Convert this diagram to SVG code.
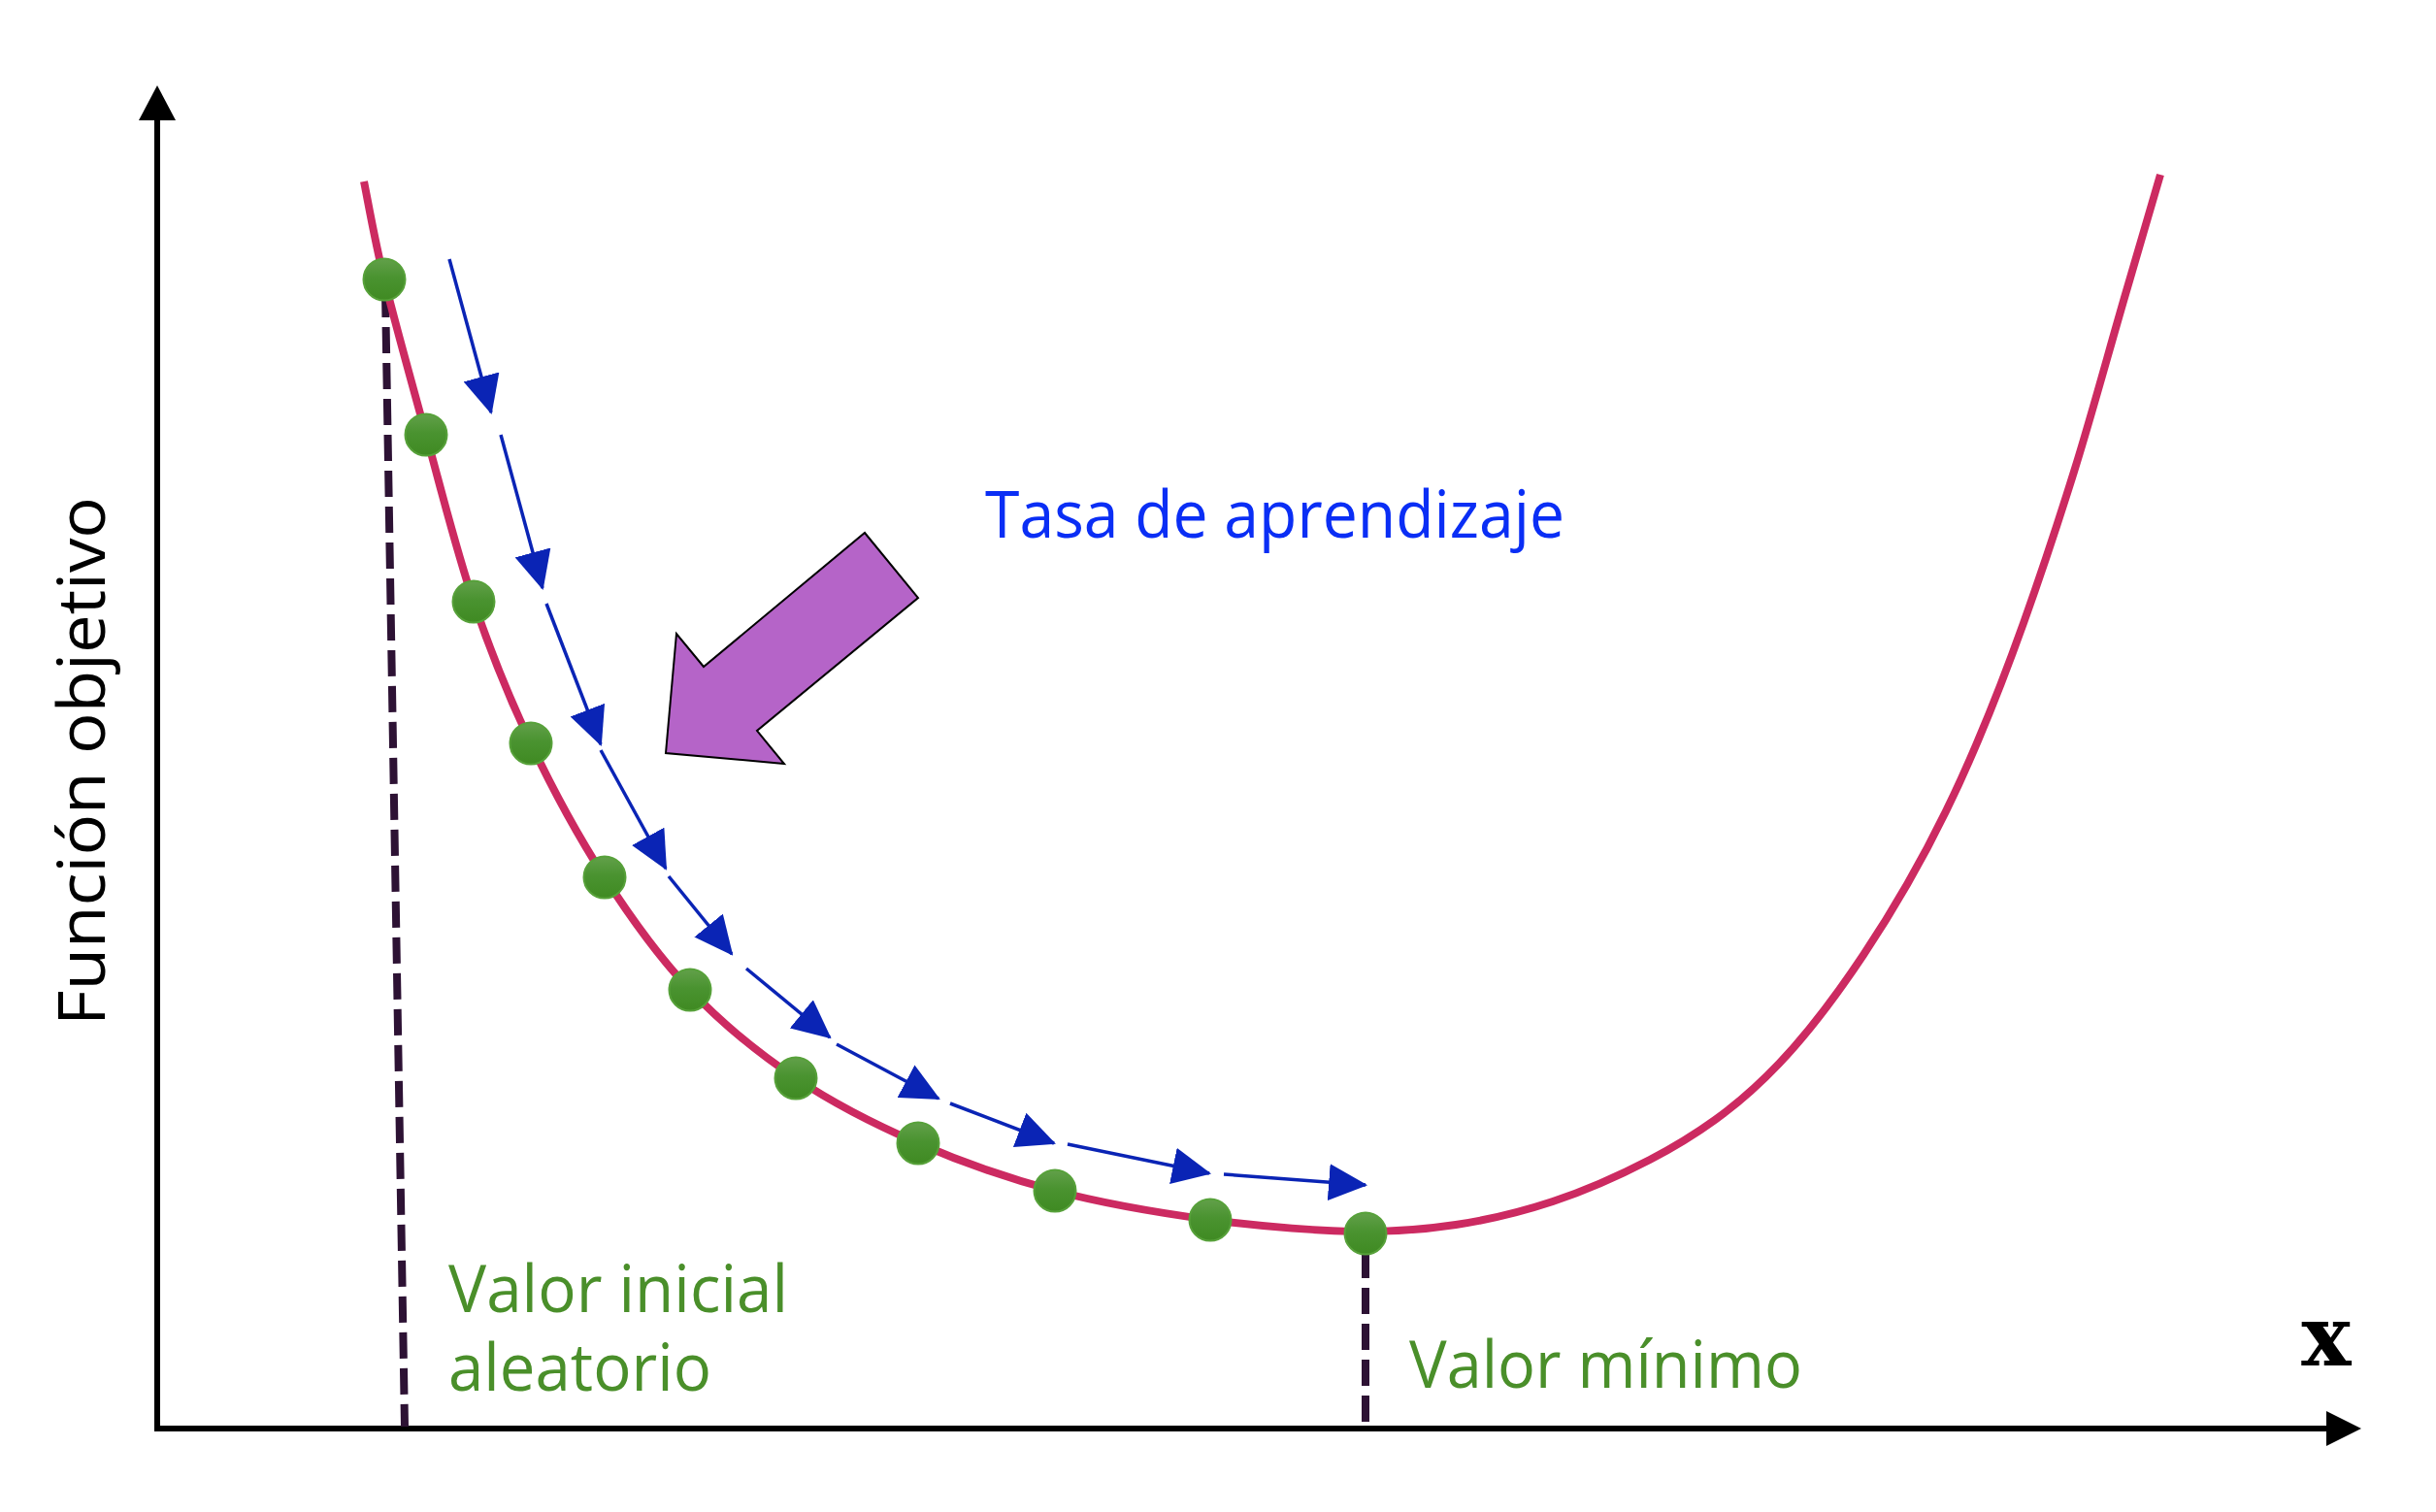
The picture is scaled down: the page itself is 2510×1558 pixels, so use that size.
<svg xmlns="http://www.w3.org/2000/svg" width="2510" height="1558" viewBox="0 0 2510 1558">
<style>
.axis{stroke:#000;stroke-width:6;fill:none}
.head{fill:#000}
.curve{stroke:#cc2a61;stroke-width:8;fill:none}
.dash{stroke:#2d1234;stroke-width:8;stroke-dasharray:27 10;fill:none}
.step{stroke:#0a24b5;stroke-width:3.5;fill:none;marker-end:url(#ah)}
.dot{fill:url(#dg);stroke:#57a13a;stroke-width:2}
.lbl{font-family:"Open Sans","Noto Sans","Liberation Sans",sans-serif;font-size:68px}
.green{fill:#4a8f2a}
</style>
<defs>
<marker id="ah" markerUnits="userSpaceOnUse" markerWidth="40" markerHeight="38" viewBox="0 0 38 36" refX="36" refY="18" orient="auto">
<path d="M0,0 L38,18 L0,36 z" fill="#0a24b5"/>
</marker>
<linearGradient id="dg" x1="0" y1="0" x2="0" y2="1">
<stop offset="0" stop-color="#62a04a"/>
<stop offset="0.45" stop-color="#4a9330"/>
<stop offset="1" stop-color="#3f8a22"/>
</linearGradient>
</defs>
<rect width="2510" height="1558" fill="#fff"/>

<g id="axes">
<line class="axis" x1="162" y1="1475" x2="162" y2="120"/>
<polygon class="head" points="162,88 143,124 181,124"/>
<line class="axis" x1="159" y1="1472" x2="2400" y2="1472"/>
<polygon class="head" points="2433,1472 2397,1454 2397,1490"/>
<text x="2397" y="1407" text-anchor="middle" font-family="DejaVu Serif,Liberation Serif,serif" font-weight="bold" font-size="86">x</text>
<text transform="translate(108,1057) rotate(-90)" class="lbl" font-size="75" fill="#000" textLength="545" lengthAdjust="spacingAndGlyphs">Función objetivo</text>
</g>

<g id="guides">
<line class="dash" x1="397" y1="300" x2="417" y2="1470"/>
<line class="dash" x1="1407" y1="1290" x2="1407" y2="1470"/>
</g>

<g id="curve">
<path class="curve" d="M375,187 C378.5,203.8 385.3,244.5 396,288 C406.7,331.5 423.7,392.7 439,448 C454.3,503.3 470,567 488,620 C506,673 524.5,718.7 547,766 C569.5,813.3 595.7,861.7 623,904 C650.3,946.3 678.2,985.5 711,1020 C743.8,1054.5 780.8,1084.7 820,1111 C859.2,1137.3 901.5,1158.7 946,1178 C990.5,1197.3 1036.8,1213.8 1087,1227 C1137.2,1240.2 1193.7,1249.7 1247,1257 C1300.3,1264 1364.8,1269 1407,1269 C1438,1269 1469,1266.7 1500,1262 C1533.3,1257 1566.7,1249 1600,1238 C1633.3,1227 1666.7,1212.3 1700,1195 C1722.3,1183.4 1744.7,1170.1 1767,1154 C1789,1138.2 1811,1119.1 1833,1096 C1862,1065.6 1891,1027.5 1920,984 C1948.3,941.5 1976.7,894 2005,836 C2031.7,781.3 2058.3,716.7 2085,642 C2102.3,593.5 2119.7,541.5 2137,486 C2155.7,426.3 2174.3,356.5 2193,293 C2204,255.6 2215,217.4 2226,180"/>
</g>

<g id="connectors">
<path class="step" d="M463,267 L506,425"/>
<path class="step" d="M516,448 L559,606"/>
<path class="step" d="M563,622 L619,767"/>
<path class="step" d="M619,773 L686,895"/>
<path class="step" d="M689,903 L754,983"/>
<path class="step" d="M769,998 L855,1069"/>
<path class="step" d="M862,1076 L967,1132"/>
<path class="step" d="M979,1137 L1086,1178"/>
<path class="step" d="M1100,1179 L1246,1209"/>
<path class="step" d="M1261,1210 L1407,1221"/>
</g>

<g id="dots">
<circle class="dot" cx="396" cy="288" r="21.5"/>
<circle class="dot" cx="439" cy="448" r="21.5"/>
<circle class="dot" cx="488" cy="620" r="21.5"/>
<circle class="dot" cx="547" cy="766" r="21.5"/>
<circle class="dot" cx="623" cy="904" r="21.5"/>
<circle class="dot" cx="711" cy="1020" r="21.5"/>
<circle class="dot" cx="820" cy="1111" r="21.5"/>
<circle class="dot" cx="946" cy="1178" r="21.5"/>
<circle class="dot" cx="1087" cy="1227" r="21.5"/>
<circle class="dot" cx="1247" cy="1257" r="21.5"/>
<circle class="dot" cx="1407" cy="1271" r="21.5"/>
</g>

<g id="big-arrow">
<polygon points="891,549 946,616 780,753 808,787 686,776 697,653 725,687" fill="#b564c8" stroke="#000" stroke-width="2" stroke-linejoin="miter"/>
</g>

<g id="label-rate">
<text x="1015" y="554" class="lbl" font-size="69" fill="#0a2ef5" textLength="597" lengthAdjust="spacingAndGlyphs">Tasa de aprendizaje</text>
</g>
<g id="label-initial">
<text class="lbl green"><tspan x="462" y="1352" textLength="350" lengthAdjust="spacingAndGlyphs">Valor inicial</tspan><tspan x="462" y="1433" textLength="271" lengthAdjust="spacingAndGlyphs">aleatorio</tspan></text>
</g>
<g id="label-min">
<text x="1452" y="1430" class="lbl green" textLength="405" lengthAdjust="spacingAndGlyphs">Valor mínimo</text>
</g>
</svg>
